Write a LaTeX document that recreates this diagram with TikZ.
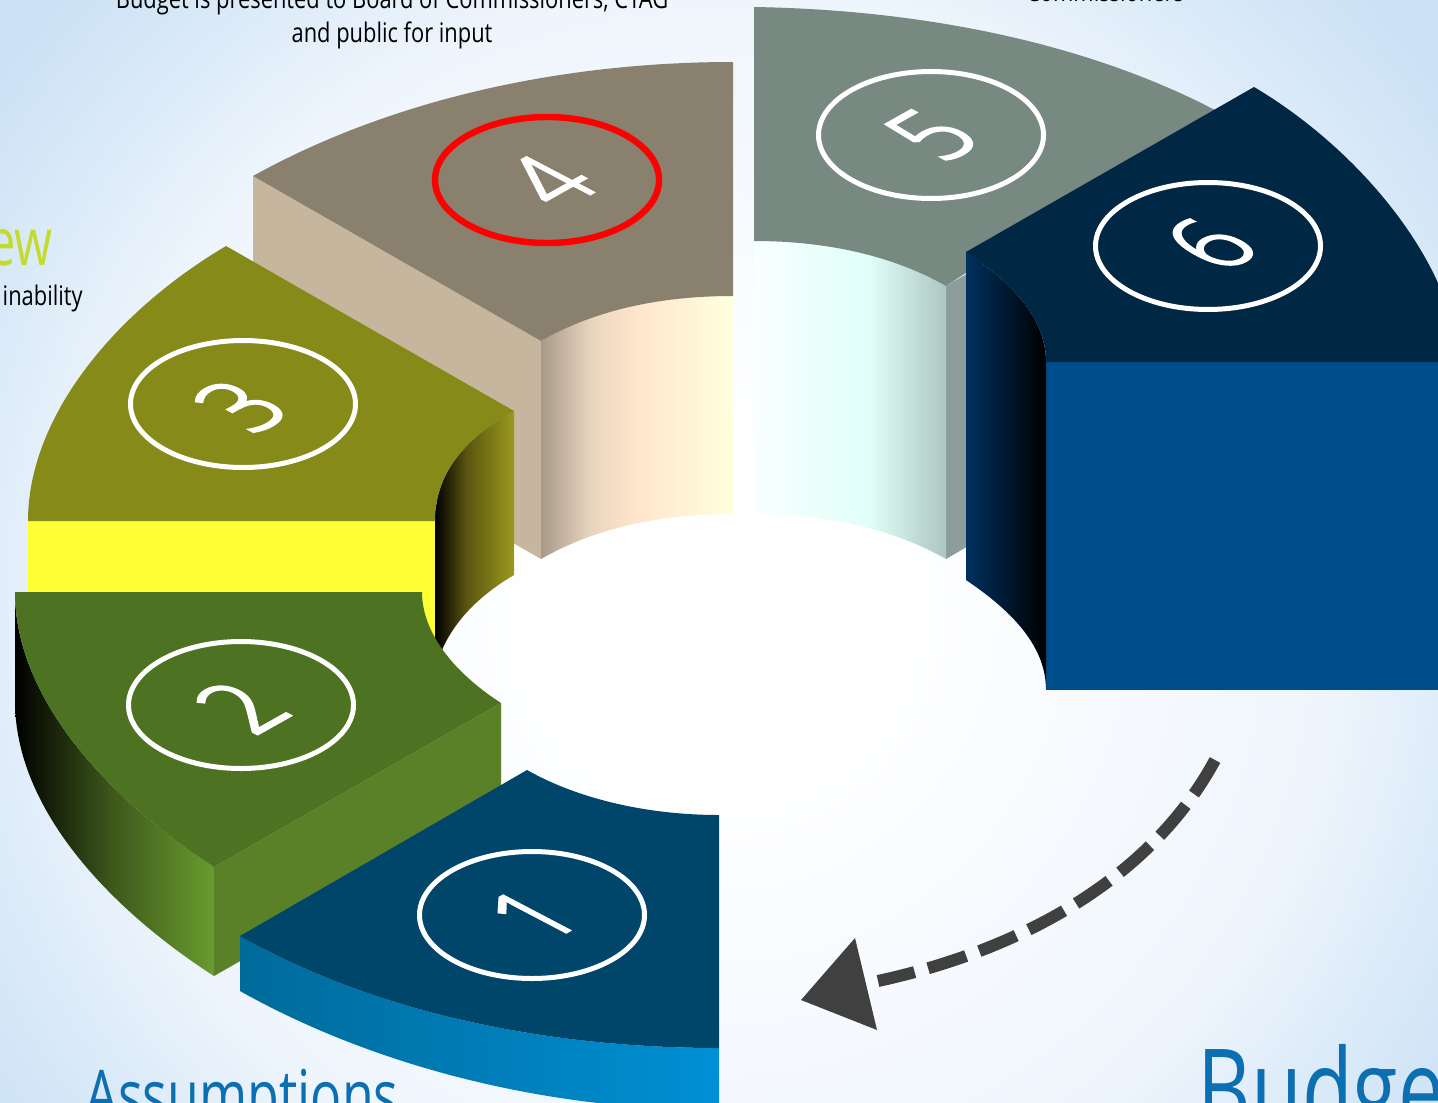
\documentclass[tikz,border=0pt]{standalone}
\usepackage{fontspec}
\setmainfont{Open Sans}
\newfontfamily\cond[FakeStretch=0.81]{Open Sans}
\newfontfamily\condbig[FakeStretch=0.74]{Open Sans}
\newfontfamily\digfont[UprightFont={* Light},FakeBold=3]{Open Sans}
\definecolor{bgA}{HTML}{FFFFFF}
\definecolor{bgE}{HTML}{F7FAFE}
\definecolor{bgB}{HTML}{EEF5FC}
\definecolor{bgC}{HTML}{DEECF9}
\definecolor{bgD}{HTML}{CAE1F5}
\pgfdeclareradialshading{bgshade}{\pgfpoint{0bp}{0bp}}{color(0bp)=(bgA); color(4bp)=(bgA); color(10bp)=(bgE); color(15.5bp)=(bgB); color(18.5bp)=(bgC); color(22.5bp)=(bgD); color(25bp)=(bgD); color(50bp)=(bgD)}
\definecolor{topFour}{HTML}{8A806E}
\definecolor{sideFour}{HTML}{C6B69D}
\definecolor{topFive}{HTML}{778980}
\definecolor{sideFive}{HTML}{8C9D9B}
\definecolor{topSix}{HTML}{002845}
\definecolor{frontSix}{HTML}{004D8C}
\definecolor{topThree}{HTML}{868A18}
\definecolor{yelThree}{HTML}{FFFF33}
\definecolor{topTwo}{HTML}{4D7222}
\definecolor{sideTwo}{HTML}{5A8028}
\definecolor{topOne}{HTML}{00456A}
\definecolor{a1}{HTML}{A89A8A}\definecolor{a2}{HTML}{E8D5BE}\definecolor{a3}{HTML}{FFE6CC}\definecolor{a4}{HTML}{FFFFDD}
\definecolor{b1}{HTML}{F8FFFF}\definecolor{b2}{HTML}{E0FFF8}\definecolor{b3}{HTML}{ADC6C1}
\definecolor{c1}{HTML}{003060}
\definecolor{d1}{HTML}{5A5510}\definecolor{d2}{HTML}{9A9A1E}
\definecolor{e2}{HTML}{689C2E}
\definecolor{f1}{HTML}{006A9A}\definecolor{f2}{HTML}{0090D5}
\definecolor{bluetxt}{HTML}{0B6FB2}
\definecolor{greentxt}{HTML}{C3DB2A}
\definecolor{arrowgrey}{HTML}{404040}
\pgfdeclarehorizontalshading{innerFour}{100bp}{color(0bp)=(a1); color(25bp)=(a1); color(38bp)=(a2); color(50bp)=(a3); color(75bp)=(a4); color(100bp)=(a4)}
\pgfdeclarehorizontalshading{innerFive}{100bp}{color(0bp)=(b1); color(25bp)=(b1); color(55bp)=(b2); color(75bp)=(b3); color(100bp)=(b3)}
\pgfdeclarehorizontalshading{innerSix}{100bp}{color(0bp)=(c1); color(25bp)=(c1); color(75bp)=(black); color(100bp)=(black)}
\pgfdeclarehorizontalshading{innerThree}{100bp}{color(0bp)=(black); color(25bp)=(black); color(45bp)=(d1); color(75bp)=(d2); color(100bp)=(d2)}
\pgfdeclarehorizontalshading{outerTwo}{100bp}{color(0bp)=(black); color(25bp)=(black); color(50bp)=(sideTwo!70!black); color(75bp)=(e2); color(100bp)=(e2)}
\pgfdeclarehorizontalshading{outerOne}{100bp}{color(0bp)=(f1); color(25bp)=(f1); color(75bp)=(f2); color(100bp)=(f2)}
\usetikzlibrary{shapes.geometric}
\tikzset{
  badge/.style={draw=white,line width=2.5pt,ellipse,minimum width=112.5pt,minimum height=63.5pt,inner sep=0pt},
  digitmark/.style={transform shape,text=white,inner sep=0pt,font=\digfont\fontsize{38}{38}\selectfont},
  blacklabel/.style={text=black,align=center,inner sep=0pt,font=\cond\fontsize{13.5}{17.5}\selectfont},
}
\newcommand{\digitat}[4]{\begin{scope}[shift={(#2,#3)},cm={.98,.55,-1.22,.64,(0,0)}]\node[digitmark] (#1) at (0,0) {#4};\end{scope}}
\begin{document}
\begin{tikzpicture}[x=0.5pt,y=-0.5pt]
\useasboundingbox (0,0) rectangle (1438,1102);
\clip (0,0) rectangle (1438,1102);
\path[shading=bgshade] (715,610) circle[radius=1000];
% texts
\node[blacklabel,anchor=base] (budgettxt) at (392,9) {Budget is presented to Board of Commissioners, CTAG};
\node[blacklabel,anchor=base] (inputtxt) at (392,43) {and public for input};
\node[blacklabel,anchor=base] (commtxt) at (1105,2) {Commissioners};
\node[anchor=base east,inner sep=0pt,text=greentxt,font=\condbig\fontsize{33}{33}\selectfont] (newtxt) at (53,265) {ew};
\node[blacklabel,anchor=base east] (sustxt) at (83,305) {inability};
\node[anchor=base,inner sep=0pt,text=bluetxt,font=\condbig\fontsize{35}{35}\selectfont] (asstxt) at (242,1120) {Assumptions};
\node[anchor=base west,inner sep=0pt,text=bluetxt,font=\condbig\fontsize{56}{56}\selectfont] (budtxt) at (1197,1129) {Budge};
% segment 5
\fill[sideFive] (946,286) -- (970,272) -- (970,545) -- (946,559) -- cycle;
\path[shading=innerFive] (754,241) .. controls (830,241) and (895,257) .. (946,286) -- (946,559) .. controls (895,530) and (830,514) .. (754,514) -- cycle;
\fill[topFive] (754,7) .. controls (930,10) and (1090,45) .. (1215,110) -- (946,286) .. controls (895,257) and (830,241) .. (754,241) -- cycle;
% segment 4
\fill[sideFour] (253,176) -- (541,341) -- (541,559) -- (253,394) -- cycle;
\path[shading=innerFour] (541,341) .. controls (595,310) and (660,296) .. (733,296) -- (733,514) .. controls (660,514) and (595,528) .. (541,559) -- cycle;
\fill[topFour] (253,176) .. controls (390,100) and (560,62) .. (733,62) -- (733,296) .. controls (660,296) and (595,310) .. (541,341) -- cycle;
% segment 3
\fill[yelThree] (28,521) rectangle (435,660);
\path[shading=innerThree] (435,521) .. controls (435,470) and (470,435) .. (514,411) -- (514,575) .. controls (480,595) and (455,620) .. (442,650) -- (435,665) -- cycle;
\fill[topThree] (226,246) -- (514,411) .. controls (470,435) and (435,470) .. (435,521) -- (28,521) .. controls (28,420) and (110,315) .. (226,246) -- cycle;
% segment 2
\path[shading=outerTwo] (15,592) .. controls (15,700) and (110,800) .. (214,867) -- (214,976) .. controls (110,909) and (15,809) .. (15,701) -- cycle;
\fill[sideTwo] (214,867) -- (501,703) -- (501,812) -- (214,976) -- cycle;
\fill[topTwo] (15,592) -- (422,592) .. controls (422,630) and (450,670) .. (501,703) -- (214,867) .. controls (110,800) and (15,700) .. (15,592) -- cycle;
% segment 1
\path[shading=outerOne] (240,936) .. controls (370,1010) and (540,1048) .. (719,1048) -- (719,1110) .. controls (540,1110) and (370,1064) .. (240,991) -- cycle;
\fill[topOne] (240,936) -- (527,770) .. controls (580,800) and (650,815) .. (719,815) -- (719,1048) .. controls (540,1048) and (370,1010) .. (240,936) -- cycle;
% segment 6
\fill[frontSix] (1046,362) rectangle (1438,690);
\path[shading=innerSix] (966,252) .. controls (1015,285) and (1046,320) .. (1046,362) -- (1046,690) .. controls (1046,648) and (1015,613) .. (966,580) -- cycle;
\fill[topSix] (966,252) -- (1254,87) .. controls (1335,135) and (1405,210) .. (1438,283) -- (1438,362) -- (1046,362) .. controls (1046,320) and (1015,285) .. (966,252) -- cycle;
% badges
\node[badge,draw=red,line width=3.2pt,minimum width=112pt,minimum height=63pt] (b4) at (547,180) {};
\node[badge] (b5) at (931,135) {};
\node[badge] (b6) at (1208,246) {};
\node[badge] (b3) at (243,404) {};
\node[badge] (b2) at (241,705) {};
\node[badge] (b1) at (532,915) {};
\digitat{d4}{549}{181}{4}
\digitat{d5}{932}{135}{5}
\digitat{d6}{1210}{244}{6}
\digitat{d3}{241}{406}{3}
\digitat{d2}{241}{707}{2}
\digitat{d1}{533}{915}{1}
% arrow
\coordinate (arrS) at (1215,760);
\coordinate (arrE) at (878,981);
\draw[arrowgrey,line width=6pt,dash pattern=on 20pt off 7pt] (arrS) .. controls (1150,880) and (1020,950) .. (arrE);
\fill[arrowgrey] (855,938) -- (801,1000) -- (877,1030) -- cycle;
\end{tikzpicture}
\end{document}
